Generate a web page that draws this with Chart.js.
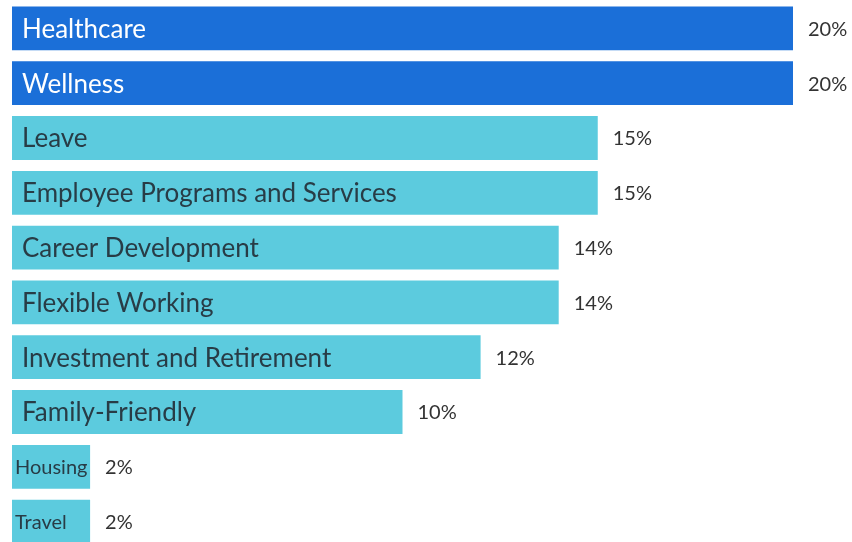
<!DOCTYPE html>
<html>
<head>
<meta charset="utf-8">
<script src="https://cdn.jsdelivr.net/npm/chart.js@4"></script>
<style>
  html, body { margin: 0; padding: 0; background: #fff; overflow: hidden; }
  #wrap { position: absolute; left: 0; top: 0; width: 852px; height: 549px; }
</style>
</head>
<body>
<div id="wrap"><canvas id="benefits"></canvas></div>
<script>
const categories = [
    'Healthcare',
    'Wellness',
    'Leave',
    'Employee Programs and Services',
    'Career Development',
    'Flexible Working',
    'Investment and Retirement',
    'Family-Friendly',
    'Housing',
    'Travel',
];
const shares = [20, 20, 15, 15, 14, 14, 12, 10, 2, 2];
const barColors = ['#1b6fd8', '#1b6fd8', '#5ccbde', '#5ccbde', '#5ccbde', '#5ccbde', '#5ccbde', '#5ccbde', '#5ccbde', '#5ccbde'];
const textColors = ['#ffffff', '#ffffff', '#283c46', '#283c46', '#283c46', '#283c46', '#283c46', '#283c46', '#283c46', '#283c46'];

const FONT = 'Lato, "Open Sans", sans-serif';

// names inside the bars, percentages after them
const barText = {
    id: 'barText',
    afterDatasetsDraw(chart) {
        const ctx = chart.ctx;
        const meta = chart.getDatasetMeta(0);
        ctx.save();
        ctx.textBaseline = 'middle';
        meta.data.forEach((bar, i) => {
            const left = bar.base;
            const width = bar.x - bar.base;
            let pad = 10;
            ctx.font = '26px ' + FONT;
            if (ctx.measureText(categories[i]).width > width - 2 * pad) {
                // short bars get a smaller label
                pad = 3;
                ctx.font = '20px ' + FONT;
            }
            ctx.fillStyle = textColors[i];
            ctx.textAlign = 'left';
            ctx.fillText(categories[i], left + pad, bar.y + 1);

            ctx.font = '20px ' + FONT;
            ctx.fillStyle = '#333333';
            ctx.fillText(shares[i] + '%', bar.x + 15, bar.y + 1);
        });
        ctx.restore();
    }
};

const config = {
    type: 'bar',
    data: {
        labels: categories,
        datasets: [{
            data: shares,
            backgroundColor: barColors,
            borderWidth: 0,
            barPercentage: 0.8,
            categoryPercentage: 1,
        }]
    },
    options: {
        indexAxis: 'y',
        responsive: true,
        maintainAspectRatio: false,
        animation: false,
        layout: { padding: { left: 12, right: 59, top: 1, bottom: 0 } },
        scales: {
            x: { display: false, min: 0, max: 20 },
            y: { display: false }
        },
        plugins: {
            legend: { display: false },
            tooltip: { enabled: false }
        }
    },
    plugins: [barText]
};

const myChart = new Chart(document.getElementById('benefits'), config);
</script>
</body>
</html>
